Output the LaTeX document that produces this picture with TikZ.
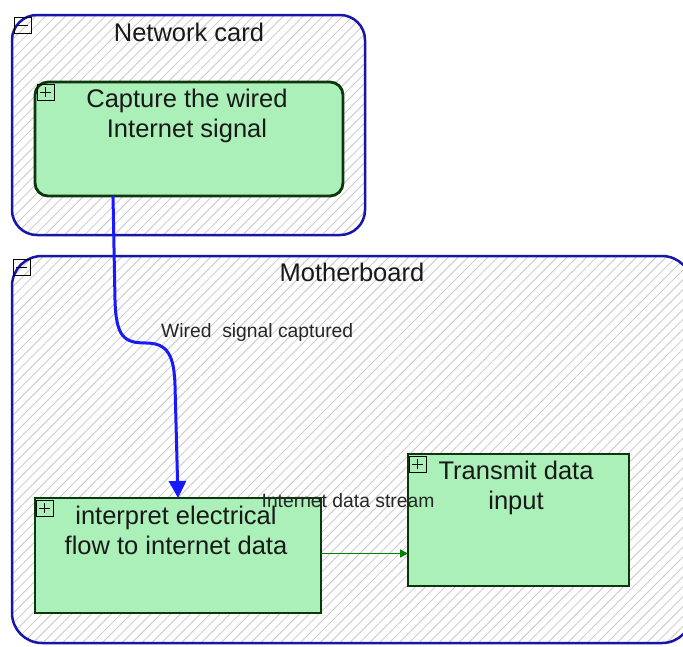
\documentclass[tikz,border=0pt]{standalone}
\usepackage{fontspec}
\setmainfont{Liberation Sans}
\usetikzlibrary{patterns.meta,arrows.meta}
\definecolor{contblue}{RGB}{22,22,170}
\definecolor{flowblue}{RGB}{25,25,255}
\definecolor{nodefill}{RGB}{170,240,184}
\definecolor{nodeline}{RGB}{12,55,12}
\definecolor{flowgreen}{RGB}{0,128,0}
\definecolor{hatchgray}{RGB}{200,200,200}
\tikzset{
  container/.style={draw=contblue, line width=2.5pt, preaction={fill=white},
    pattern={Lines[angle=45,distance=7pt,line width=0.8pt]}, pattern color=hatchgray,
    anchor=north west, inner sep=0pt, outer sep=0pt},
  task/.style={draw=nodeline, line width=2.8pt, fill=nodefill, anchor=north west, inner sep=0pt, outer sep=0pt},
  bigtext/.style={font=\fontsize{25.5}{30}\selectfont, align=center, inner sep=0pt, text=black!90},
  smalltext/.style={font=\fontsize{19.3}{23}\selectfont, inner sep=0pt, text=black!85},
  toggle/.style={draw=black, line width=0.9pt},
  flow/.style={draw=flowblue, line width=3pt, -{Triangle[width=17pt,length=17pt]}},
  link/.style={draw=flowgreen, line width=1.3pt, -{Triangle[width=8pt,length=8pt]}}
}
\begin{document}
\begin{tikzpicture}[x=1pt,y=-1pt]
\useasboundingbox (0,0) rectangle (683,646);
\clip (0,0) rectangle (683,646);
\fill[white] (0,0) rectangle (683,646);

% containers
\node[container, rounded corners=25pt, minimum width=353pt, minimum height=220pt] (netcard) at (12,15) {};
\node[container, rounded corners=30pt, minimum width=680pt, minimum height=387pt] (mobo) at (12,256) {};

\node[bigtext, anchor=base] (nettitle) at (189,41) {Network card};
\node[bigtext, anchor=base] (mobotitle) at (352,281) {Motherboard};
\draw[toggle] (14,17) rectangle ++(17,16);
\draw[toggle] (17,25) -- (28,25);
\draw[toggle] (13,259) rectangle ++(17,16);
\draw[toggle] (16,267) -- (27,267);

% tasks
\node[task, rounded corners=13pt, minimum width=308pt, minimum height=114pt] (capture) at (35,82) {};
\node[task, minimum width=286pt, minimum height=115pt] (interp) at (35,498) {};
\node[task, minimum width=221pt, minimum height=132pt] (transmit) at (408,454) {};

\node[bigtext, anchor=north] (capturetxt) at (187,88.5) {Capture the wired\\Internet signal};
\node[bigtext, anchor=north] (interptxt) at (176,505.5) {interpret electrical\\flow to internet data};
\node[bigtext, anchor=north] (transmittxt) at (516,460.5) {Transmit data\\input};

\foreach \px/\py in {37/84, 36/500, 409/456}{
  \draw[toggle] (\px,\py) rectangle ++(17,16);
  \draw[toggle] (\px+3,\py+8) -- (\px+14,\py+8);
  \draw[toggle] (\px+8.5,\py+3) -- (\px+8.5,\py+13);
}

% connectors
\draw[flow] ([xshift=78pt]capture.south west) -- (115,300)
  .. controls (116,337) and (124,343) .. (146,343)
  .. controls (168,343) and (174,356) .. (175,385)
  -- ([xshift=143pt]interp.north west);
\node[smalltext, anchor=west] (wiredlbl) at (161,333) {Wired\ \ signal captured};

\draw[link] ([yshift=2pt]interp.east) -- ([yshift=2pt]interp.east -| transmit.west);
\node[smalltext] (streamlbl) at (348,501) {Internet data stream};
\end{tikzpicture}
\end{document}
